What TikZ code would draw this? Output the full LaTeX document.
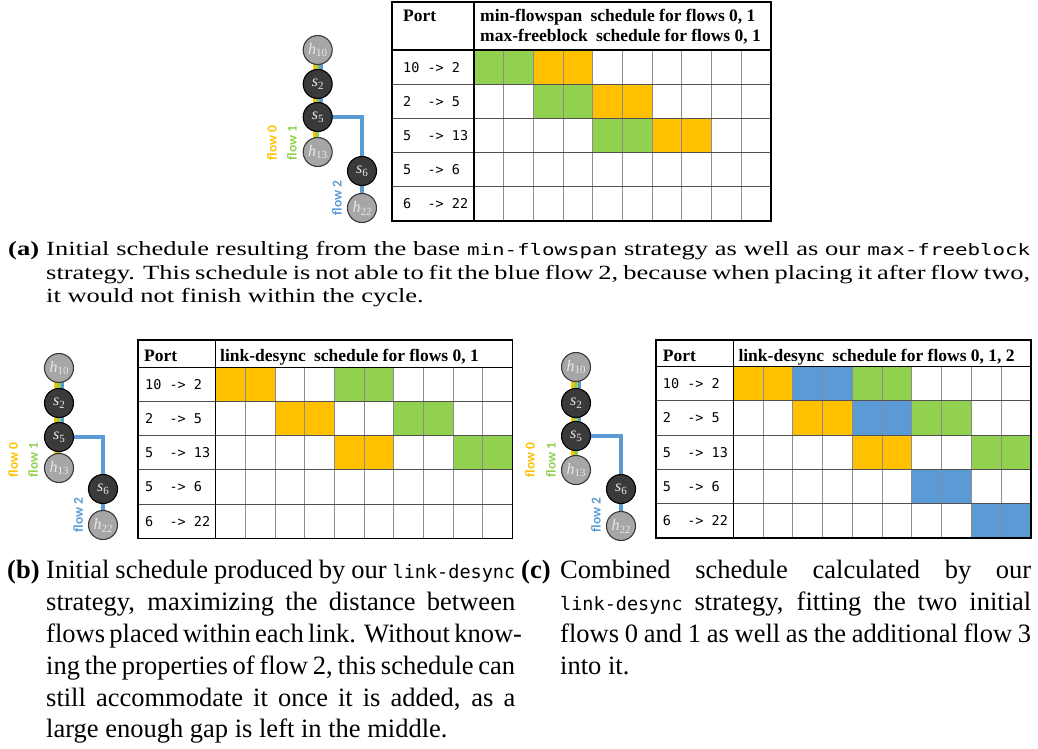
\documentclass[tikz,border=0pt]{standalone}
\usepackage{fontspec}
\usepackage{graphicx}
\setmainfont{Liberation Serif}
\newfontfamily\monof{DejaVu Sans Mono}
\newfontfamily\flowf{Carlito}
\usetikzlibrary{backgrounds}
\definecolor{forg}{HTML}{FFC000}
\definecolor{fgrn}{HTML}{92D050}
\definecolor{fblu}{HTML}{5B9BD5}
\definecolor{hgray}{HTML}{A6A6A6}
\definecolor{sdark}{HTML}{3A3A3A}
\definecolor{lbl}{HTML}{E8E8E8}
\definecolor{gridc}{HTML}{8C8C8C}
\definecolor{rowc}{HTML}{505050}

\newcommand\nlab[2]{\textit{#1}\raisebox{-0.4ex}{\fontsize{11}{11}\selectfont #2}}
\newcommand\cma[1]{{\monof\fontsize{20.8}{21}\selectfont #1}}
\newcommand\cm[1]{{\monof\fontsize{18.5}{20}\selectfont #1}}
\newcommand\capfont{\fontsize{26.5}{30}\selectfont}

\newcommand\setgrid[4]{\def\gxp{#1}\def\gyh{#2}\pgfmathsetmacro\gw{(#3-#1)/10}\pgfmathsetmacro\gh{(#4-#2)/5}}
\newcommand\cellc[3]{\fill[#3] ({\gxp+(#1-1)*\gw},{\gyh+(#2-1)*\gh}) rectangle ++(\gw,\gh);}
\newcommand\schedgrid[6]{%
  \foreach \i in {1,...,9} {\draw[gridv] ({#2+\i*(#3-#2)/10},#5) -- ({#2+\i*(#3-#2)/10},#6);}
  \foreach \j in {1,...,4} {\draw[gridh] (#1,{#5+\j*(#6-#5)/5}) -- (#3,{#5+\j*(#6-#5)/5});}
  \draw[sepl] (#1,#5) -- (#3,#5);
  \draw[sepl] (#2,#4) -- (#2,#6);
  \draw[framel] (#1,#4) rectangle (#3,#6);
}
% #1 prefix, #2 x, #3 y h10, #4 y s2, #5 y s5, #6 y h13, #7 x s6, #8 y s6, #9 y h22
\newcommand\topo[9]{%
  \node[hn] (#1h10) at (#2,#3) {\nlab{h}{10}};
  \node[sn] (#1s2) at (#2,#4) {\nlab{s}{2}};
  \node[sn] (#1s5) at (#2,#5) {\nlab{s}{5}};
  \node[hn] (#1h13) at (#2,#6) {\nlab{h}{13}};
  \node[sn] (#1s6) at (#7,#8) {\nlab{s}{6}};
  \node[hn] (#1h22) at (#7,#9) {\nlab{h}{22}};
  \begin{scope}[on background layer]
    \draw[stripe, forg] ([xshift=-3.3pt]#1h10.center) -- ([xshift=-3.3pt]#1h13.center);
    \draw[stripe, fgrn] (#1h10.center) -- (#1h13.center);
    \draw[stripe, fblu] ([xshift=3.3pt]#1h10.center) -- ([xshift=3.3pt]#1s5.center);
    \draw[fblu, line width=4pt] (#1s5.center) -| (#1s6.center);
    \draw[fblu, line width=4pt] (#1s6.center) -- (#1h22.center);
  \end{scope}
}

\begin{document}
\begin{tikzpicture}[x=1pt, y=-1pt,
  hn/.style={circle, draw=sdark, line width=1.1pt, fill=hgray, text=lbl, minimum size=29pt, inner sep=0pt, font=\fontsize{16}{16}\selectfont},
  sn/.style={circle, draw=black, line width=1.1pt, fill=sdark, text=lbl, minimum size=29pt, inner sep=0pt, font=\fontsize{16}{16}\selectfont},
  stripe/.style={line width=3.4pt},
  flowlab/.style={rotate=90, font=\flowf\bfseries\fontsize{13.5}{13.5}\selectfont, inner sep=0pt},
  gridv/.style={draw=gridc, line width=0.9pt},
  gridh/.style={draw=rowc, line width=0.9pt},
  sepl/.style={draw=black, line width=1.3pt},
  framel/.style={draw=black, line width=1.6pt},
  hdr/.style={anchor=base west, inner sep=0pt, font=\bfseries\fontsize{17.5}{20}\selectfont},
  portl/.style={anchor=west, inner sep=0pt, font=\monof\fontsize{13.5}{14}\selectfont},
  capl/.style={anchor=base west, inner sep=0pt, font=\capfont},
]
\useasboundingbox (0,0) rectangle (1038,749);

% ---------- (a) ----------
\topo{a}{317.7}{50}{84}{117}{152}{362}{171}{208}
\node[flowlab, text=forg] (af0) at (272,143) {flow 0};
\node[flowlab, text=fgrn] (af1) at (292,143) {flow 1};
\node[flowlab, text=fblu] (af2) at (337,198) {flow 2};

\setgrid{474}{50}{771}{221}
\foreach \c/\r/\k in {1/1/fgrn,2/1/fgrn,3/1/forg,4/1/forg,3/2/fgrn,4/2/fgrn,5/2/forg,6/2/forg,5/3/fgrn,6/3/fgrn,7/3/forg,8/3/forg} {\cellc{\c}{\r}{\k}}
\schedgrid{392}{474}{771}{2}{50}{221}
\node[hdr] (aport) at (403,22) {Port};
\node[hdr] (ah1) at (480,22) {min-flowspan\hspace{4pt} schedule for flows 0, 1};
\node[hdr] (ah2) at (480,42) {max-freeblock\hspace{4pt} schedule for flows 0, 1};
\node[portl] (ap1) at (403,{50+0.5*34.2}) {10 -> 2};
\node[portl] (ap2) at (403,{50+1.5*34.2}) {2\ \ -> 5};
\node[portl] (ap3) at (403,{50+2.5*34.2}) {5\ \ -> 13};
\node[portl] (ap4) at (403,{50+3.5*34.2}) {5\ \ -> 6};
\node[portl] (ap5) at (403,{50+4.5*34.2}) {6\ \ -> 22};

\node[capl] (alab) at (8,255) {\scalebox{1}[0.76]{\textbf{(a)}}};
\node[capl] (a1) at (46,255) {\scalebox{1}[0.76]{\makebox[984pt][s]{Initial schedule resulting from the base \cma{min-flowspan} strategy as well as our \cma{max-freeblock}}}};
\node[capl] (a2) at (46,279) {\scalebox{1}[0.76]{\makebox[984pt][s]{strategy. This schedule is not able to fit the blue flow 2, because when placing it after flow two,}}};
\node[capl] (a3) at (46,302) {\scalebox{1}[0.76]{it would not finish within the cycle.}};

% ---------- (b) ----------
\topo{b}{59}{368}{403}{437}{468}{103}{489}{525}
\node[flowlab, text=forg] (bf0) at (13.3,460) {flow 0};
\node[flowlab, text=fgrn] (bf1) at (33.3,460) {flow 1};
\node[flowlab, text=fblu] (bf2) at (78.3,515) {flow 2};

\setgrid{215.7}{367.3}{512.3}{538.3}
\foreach \c/\r/\k in {1/1/forg,2/1/forg,5/1/fgrn,6/1/fgrn,3/2/forg,4/2/forg,7/2/fgrn,8/2/fgrn,5/3/forg,6/3/forg,9/3/fgrn,10/3/fgrn} {\cellc{\c}{\r}{\k}}
\schedgrid{137.7}{215.7}{512.3}{340}{367.3}{538.3}
\node[hdr] (bport) at (144,361) {Port};
\node[hdr] (bh1) at (220,361) {link-desync\hspace{4pt} schedule for flows 0, 1};
\node[portl] (bp1) at (145,{367.3+0.5*34.2}) {10 -> 2};
\node[portl] (bp2) at (145,{367.3+1.5*34.2}) {2\ \ -> 5};
\node[portl] (bp3) at (145,{367.3+2.5*34.2}) {5\ \ -> 13};
\node[portl] (bp4) at (145,{367.3+3.5*34.2}) {5\ \ -> 6};
\node[portl] (bp5) at (145,{367.3+4.5*34.2}) {6\ \ -> 22};

\node[capl] (blab) at (7,578) {\textbf{(b)}};
\node[capl] (b1) at (46,578) {\makebox[469pt][s]{Initial schedule produced by our \cm{link-desync}}};
\node[capl] (b2) at (46,610) {\makebox[469pt][s]{strategy, maximizing the distance between}};
\node[capl] (b3) at (46,642) {\makebox[469pt][s]{flows placed within each link. Without know-}};
\node[capl] (b4) at (46,674) {\makebox[469pt][s]{ing the properties of flow 2, this schedule can}};
\node[capl] (b5) at (46,706) {\makebox[469pt][s]{still accommodate it once it is added, as a}};
\node[capl] (b6) at (46,737) {large enough gap is left in the middle.};

% ---------- (c) ----------
\topo{c}{576}{367}{403}{436}{470}{621}{489}{526}
\node[flowlab, text=forg] (cf0) at (530,460) {flow 0};
\node[flowlab, text=fgrn] (cf1) at (551,460) {flow 1};
\node[flowlab, text=fblu] (cf2) at (596,515) {flow 2};

\setgrid{733.3}{366.7}{1031}{537.7}
\foreach \c/\r/\k in {1/1/forg,2/1/forg,3/1/fblu,4/1/fblu,5/1/fgrn,6/1/fgrn,3/2/forg,4/2/forg,5/2/fblu,6/2/fblu,7/2/fgrn,8/2/fgrn,5/3/forg,6/3/forg,9/3/fgrn,10/3/fgrn,7/4/fblu,8/4/fblu,9/5/fblu,10/5/fblu} {\cellc{\c}{\r}{\k}}
\schedgrid{656}{733.3}{1031}{340}{366.7}{537.7}
\node[hdr] (cport) at (662.7,361) {Port};
\node[hdr] (ch1) at (738.3,361) {link-desync\hspace{4pt} schedule for flows 0, 1, 2};
\node[portl] (cp1) at (662.7,{366.7+0.5*34.2}) {10 -> 2};
\node[portl] (cp2) at (662.7,{366.7+1.5*34.2}) {2\ \ -> 5};
\node[portl] (cp3) at (662.7,{366.7+2.5*34.2}) {5\ \ -> 13};
\node[portl] (cp4) at (662.7,{366.7+3.5*34.2}) {5\ \ -> 6};
\node[portl] (cp5) at (662.7,{366.7+4.5*34.2}) {6\ \ -> 22};

\node[capl] (clab) at (521,578) {\textbf{(c)}};
\node[capl] (c1) at (560,578) {\makebox[471pt][s]{Combined schedule calculated by our}};
\node[capl] (c2) at (560,610) {\makebox[471pt][s]{\cm{link-desync} strategy, fitting the two initial}};
\node[capl] (c3) at (560,642) {\makebox[471pt][s]{flows 0 and 1 as well as the additional flow 3}};
\node[capl] (c4) at (560,674) {into it.};
\end{tikzpicture}
\end{document}
